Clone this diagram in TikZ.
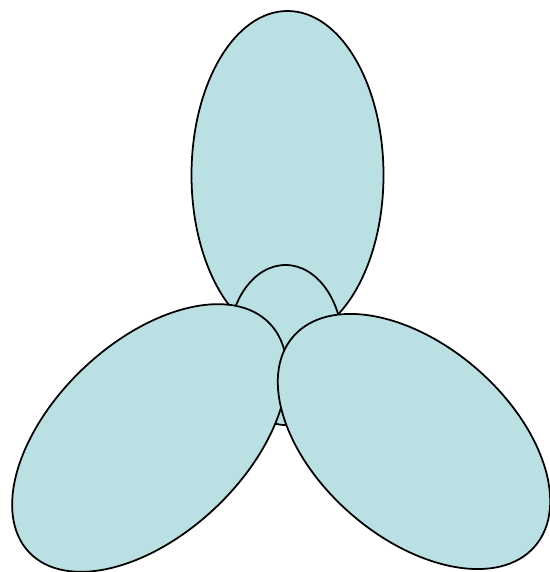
\documentclass[tikz,border=0pt]{standalone}
\usepackage{xcolor}
\usepackage{tikz}
\definecolor{petal}{RGB}{187,224,227}

\begin{document}
\begin{tikzpicture}[
    x=0.02cm, y=0.02cm,
    lobe/.style={fill=petal, draw=black, line width=1pt}
]

    % Area del disegno
    \useasboundingbox (0,0) rectangle (549,572);

    % Semiasse minore dei petali
    \def\a{96}

    % Petalo superiore
    \coordinate (top) at (287.5,397);
    \draw[lobe] (top) ellipse [x radius=\a, y radius=164];

    % Mozzo centrale
    \coordinate (hub) at (285.5,227);
    \draw[lobe] (hub) ellipse [x radius=57, y radius=80];

    % Petalo sinistro
    \coordinate (left) at (149.5,134);
    \draw[lobe, rotate around={-46.5:(left)}] (left) ellipse [x radius=\a, y radius=166];

    % Petalo destro
    \coordinate (right) at (414,130.5);
    \draw[lobe, rotate around={49:(right)}] (right) ellipse [x radius=\a, y radius=160];

\end{tikzpicture}
\end{document}
